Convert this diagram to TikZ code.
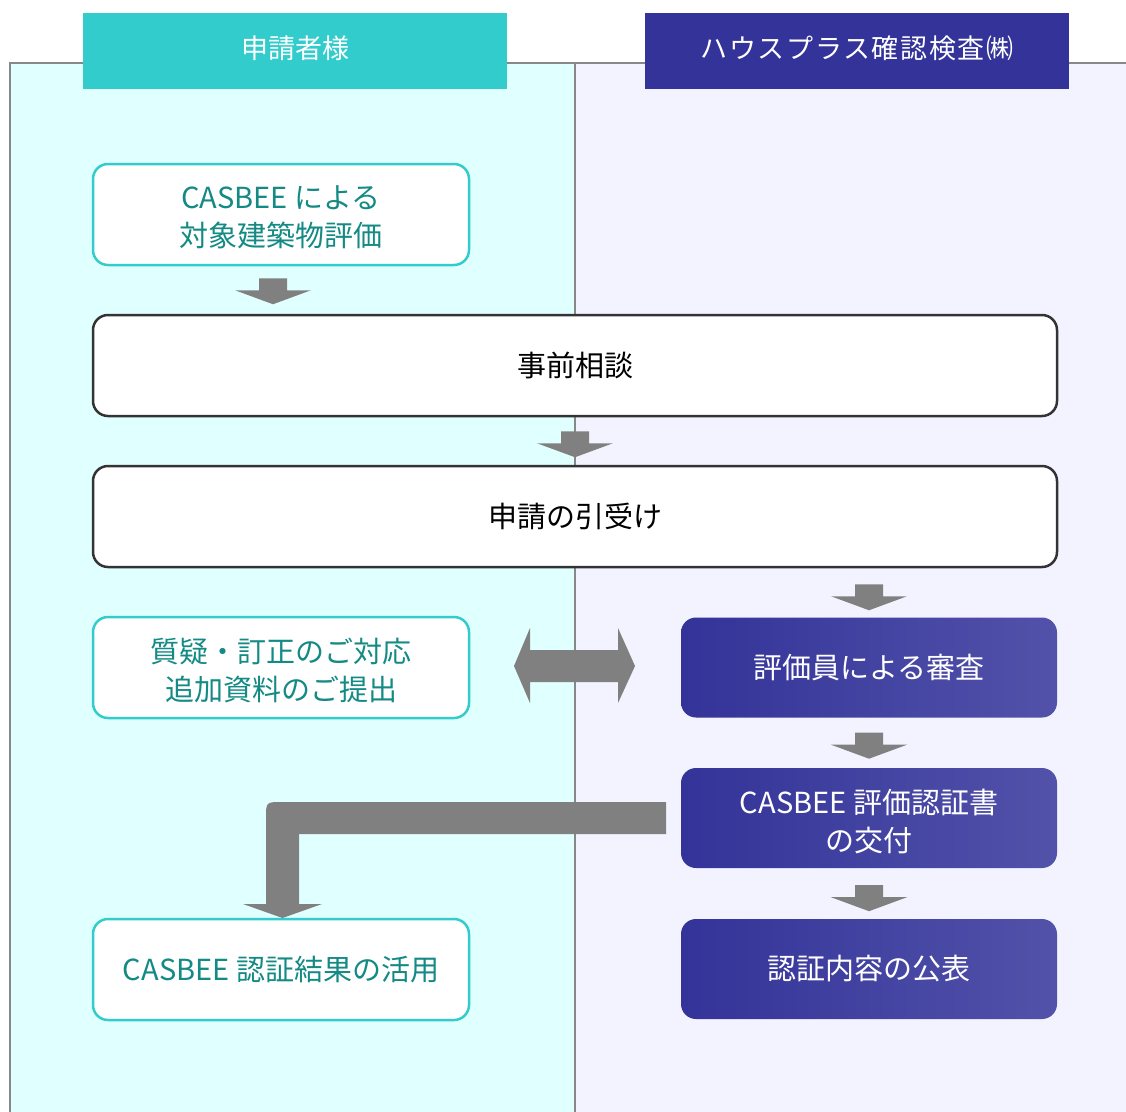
\documentclass[tikz,border=0pt]{standalone}
\usepackage{fontspec}
\setmainfont{Noto Sans CJK JP}
\usetikzlibrary{calc}
\definecolor{lanecyan}{HTML}{E0FFFF}
\definecolor{lanelav}{HTML}{F3F3FF}
\definecolor{lanegray}{HTML}{888888}
\definecolor{teal1}{HTML}{33CCCC}
\definecolor{navy1}{HTML}{333399}
\definecolor{navy2}{HTML}{5252AA}
\definecolor{tealtext}{HTML}{148A85}
\definecolor{arrowgray}{HTML}{808080}
\definecolor{darkline}{HTML}{333333}
\tikzset{
  hdr/.style={minimum width=424pt, minimum height=76pt, inner sep=0pt},
  hdrtext/.style={inner sep=0pt, text=white, font=\fontsize{27}{30}\selectfont},
  tealbox/.style={draw=teal1, line width=2.5pt, fill=white, rounded corners=15pt, minimum width=376pt, minimum height=101pt, inner sep=0pt, text=tealtext, align=center, font=\fontsize{29}{38}\selectfont},
  widebox/.style={draw=darkline, line width=2.5pt, fill=white, rounded corners=15pt, minimum width=964pt, minimum height=101pt, inner sep=0pt, text=black, align=center, font=\fontsize{29}{38}\selectfont},
  navybox/.style={rounded corners=15pt, left color=navy1, right color=navy2, minimum width=376pt, minimum height=100pt, inner sep=0pt, text=white, align=center, font=\fontsize{29}{38}\selectfont},
  boxtext/.style={inner sep=0pt, align=center, font=\fontsize{29}{38}\selectfont},
  downarrow/.pic={\fill[arrowgray] (-14,0) -- (14,0) -- (14,12) -- (38,12) -- (0,26) -- (-38,12) -- (-14,12) -- cycle;}
}
\begin{document}
\begin{tikzpicture}[x=1pt,y=-1pt]
\useasboundingbox (0,0) rectangle (1126,1111);
% lanes
\fill[lanecyan] (10,63) rectangle (575,1120);
\fill[lanelav] (575,63) rectangle (1130,1120);
\draw[lanegray, line width=2pt] (10,1120) -- (10,63) -- (1130,63);
\draw[lanegray, line width=2pt] (575,63) -- (575,1120);
% headers
\node[hdr, fill=teal1] (h1) at (295,51) {};
\node[hdrtext] (h1t) at ($(h1.center)+(0,-3)$) {申請者様};
\node[hdr, fill=navy1] (h2) at (857,51) {};
\node[hdrtext] (h2t) at ($(h2.center)+(0,-3)$) {\addfontfeature{LetterSpace=6}ハウスプラス確認検査㈱};
% boxes
\node[tealbox] (b1) at (281,214.5) {};
\node[boxtext, text=tealtext] (b1t) at ($(b1.center)+(0,3)$) {CASBEE による\\対象建築物評価};
\node[widebox] (b2) at (575,365.5) {事前相談};
\node[widebox] (b3) at (575,516.5) {申請の引受け};
\node[tealbox] (b4) at (281,667.5) {};
\node[boxtext, text=tealtext] (b4t) at ($(b4.center)+(0,3)$) {質疑・訂正のご対応\\追加資料のご提出};
\node[navybox] (r1) at (869,667.5) {評価員による審査};
\node[navybox] (r2) at (869,818) {};
\node[boxtext, text=white] (r2t) at ($(r2.center)+(0,3)$) {CASBEE 評価認証書\\の交付};
\node[navybox] (r3) at (869,969) {認証内容の公表};
\node[tealbox] (b5) at (281,969.5) {CASBEE 認証結果の活用};
% block arrows
\pic at ($(b1.south)+(-8,12)$) {downarrow};
\pic at ($(b2.south)+(0,14)$) {downarrow};
\pic at ($(b3.south)+(294,16)$) {downarrow};
\pic at ($(r1.south)+(0,15)$) {downarrow};
\pic at ($(r2.south)+(0,17)$) {downarrow};
% double arrow
\fill[arrowgray] (514,666) -- (530,628) -- (530,650) -- (618,650) -- (618,628) -- (635,666) -- (618,703) -- (618,682) -- (530,682) -- (530,703) -- cycle;
% L arrow
\fill[arrowgray] (666,834) -- (666,802) -- (282,802) .. controls (266,802) .. (266,818) -- (266,904) -- (243,904) -- (282.5,918) -- (322,904) -- (299,904) -- (299,834) -- cycle;
\end{tikzpicture}
\end{document}
